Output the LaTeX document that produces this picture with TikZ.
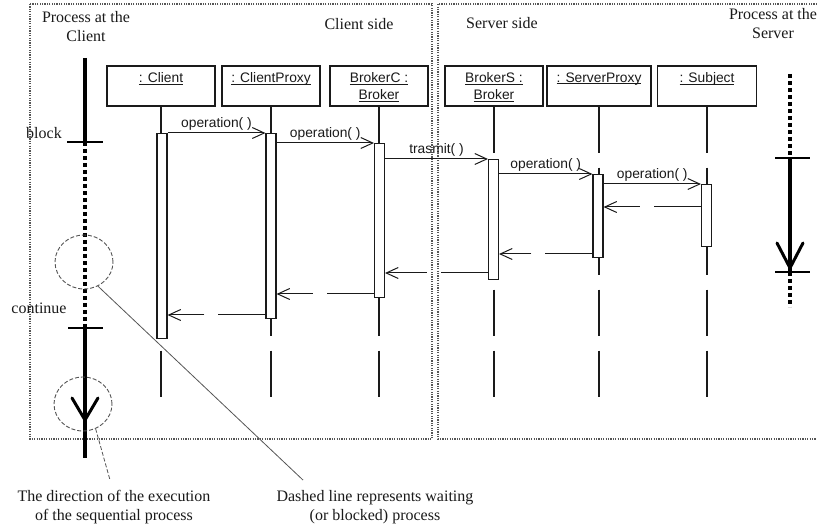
\documentclass[tikz,border=0pt]{standalone}
\usepackage{fontspec}
\setmainfont{Liberation Serif}
\newfontfamily\umlfont{Liberation Sans}
\usetikzlibrary{arrows.meta,shapes.geometric}

\definecolor{ink}{HTML}{1A1A1A}
\definecolor{frame}{HTML}{555555}

% object name, underlined close to the baseline
\newcommand\objname[1]{\underline{\raisebox{0pt}[\height][0pt]{#1}}}

\begin{document}
\begin{tikzpicture}[x=1pt,y=-1pt,
  note/.style={font=\fontsize{16}{19}\selectfont, text=ink, align=center, inner sep=0pt},
  objbox/.style={draw=ink, line width=1.3pt, fill=white, minimum height=40pt, inner sep=0pt},
  objlabel/.style={font=\umlfont\fontsize{13.8}{17}\selectfont, text=ink, align=center, anchor=north, inner sep=0pt, yshift=-7pt},
  lifeline/.style={draw=ink, line width=1.1pt, dash pattern=on 46pt off 15pt},
  actbar/.style={draw=ink, line width=1.1pt, fill=white, minimum width=10pt, inner sep=0pt, anchor=north},
  call/.style={draw=ink, line width=1pt, -{Straight Barb[length=12pt,width=11pt,line width=1pt]}},
  reply/.style={call, dash pattern=on 47pt off 14pt},
  msglabel/.style={font=\umlfont\fontsize{13.8}{16}\selectfont, text=ink, above, inner sep=2pt},
  region/.style={draw=frame, line width=1.1pt, dash pattern=on 1.2pt off 1.2pt},
  flow/.style={line width=4pt, draw=black},
  waitflow/.style={line width=4pt, draw=black, dash pattern=on 4pt off 3pt},
  tick/.style={line width=1.6pt, draw=black},
  vhead/.style={line width=3pt, draw=black, line cap=round},
  halo/.style={draw=frame, line width=0.9pt, dash pattern=on 4pt off 2pt, ellipse, minimum width=58pt, minimum height=54pt, inner sep=0pt},
  leader/.style={draw=frame, line width=0.8pt},
  leaderdash/.style={draw=frame, line width=0.8pt, dash pattern=on 4pt off 2pt},
]
\useasboundingbox (0,0) rectangle (817,529);
\fill[white] (0,0) rectangle (817,529);

% client and server regions
\draw[region] (30,4) rectangle (432,439);
\draw[region] (817,4) -- (438,4) -- (438,439) -- (817,439);

\node[note] (pc) at (86,27) {Process at the\\Client};
\node[note] (cs) at (359,24) {Client side};
\node[note] (ss) at (502,23) {Server side};
\node[note] (ps) at (773,24) {Process at the\\Server};

% participants
\node[objbox, minimum width=108pt] (cl) at (161,86) {};
\node[objlabel] at (cl.north) {\objname{: Client}};
\node[objbox, minimum width=98pt] (cp) at (271,86) {};
\node[objlabel] at (cp.north) {\objname{: ClientProxy}};
\node[objbox, minimum width=98pt] (bc) at (379,86) {};
\node[objlabel] at (bc.north) {\objname{BrokerC :}\\\objname{Broker}};
\node[objbox, minimum width=98pt] (bs) at (494,86) {};
\node[objlabel] at (bs.north) {\objname{BrokerS :}\\\objname{Broker}};
\node[objbox, minimum width=104pt] (sp) at (599,86) {};
\node[objlabel] at (sp.north) {\objname{: ServerProxy}};
\node[objbox, minimum width=99pt] (sb) at (707,86) {};
\node[objlabel] at (sb.north) {\objname{: Subject}};

% lifelines
\coordinate (lend) at (0,398);
\foreach \p in {cl,cp,bc,bs,sp,sb}
  \draw[lifeline] (\p.south) -- (\p.south |- lend);

% activation bars
\node[actbar, minimum height=205pt] (cl-act) at (162,133) {};
\node[actbar, minimum height=185pt] (cp-act) at (271,133) {};
\node[actbar, minimum height=154pt] (bc-act) at (379.5,143) {};
\node[actbar, minimum height=120pt] (bs-act) at (493.5,159) {};
\node[actbar, minimum height=83pt]  (sp-act) at (598,174) {};
\node[actbar, minimum height=62pt]  (sb-act) at (706.5,184) {};

% calls
\draw[call] (cl-act.north east) -- node[msglabel] {operation( )} (cp-act.north west);
\draw[call] (cp-act.east |- bc-act.north) -- node[msglabel] {operation( )} (bc-act.north west);
\draw[call] (bc-act.east |- bs-act.north) -- node[msglabel] {trasmit( )} (bs-act.north west);
\draw[call] (bs-act.east |- sp-act.north) -- node[msglabel] {operation( )} (sp-act.north west);
\draw[call] (sp-act.east |- sb-act.north) -- node[msglabel] {operation( )} (sb-act.north west);

% replies
\coordinate (r1) at (0,207);
\coordinate (r2) at (0,254);
\coordinate (r3) at (0,273);
\coordinate (r4) at (0,294);
\coordinate (r5) at (0,315);
\draw[reply] (sb-act.west |- r1) -- (sp-act.east |- r1);
\draw[reply] (sp-act.west |- r2) -- (bs-act.east |- r2);
\draw[reply] (bs-act.west |- r3) -- (bc-act.east |- r3);
\draw[reply] (bc-act.west |- r4) -- (cp-act.east |- r4);
\draw[reply] (cp-act.west |- r5) -- (cl-act.east |- r5);

% sequential process at the client
\coordinate (lp-top) at (85,58);
\coordinate (lp-block) at (85,142);
\coordinate (lp-cont) at (85,328);
\coordinate (lp-tip) at (85,420);
\coordinate (lp-end) at (85,458);
\draw[flow] (lp-top) -- (lp-block);
\draw[waitflow] (lp-block) -- (lp-cont);
\draw[flow] (lp-cont) -- (lp-end);
\draw[tick] ([xshift=-18pt]lp-block) -- ([xshift=18pt]lp-block);
\draw[tick] ([xshift=-17pt]lp-cont) -- ([xshift=18pt]lp-cont);
\draw[vhead] ([shift={(-13,-22)}]lp-tip) -- (lp-tip) -- ([shift={(13,-22)}]lp-tip);
\node[note, anchor=center] (blk) at (44,133) {block};
\node[note, anchor=center] (cnt) at (39,308) {continue};

% sequential process at the server
\coordinate (rp-top) at (790,74);
\coordinate (rp-start) at (790,158);
\coordinate (rp-tip) at (790,268);
\coordinate (rp-stop) at (790,272);
\coordinate (rp-end) at (790,307);
\draw[waitflow] (rp-top) -- (rp-start);
\draw[flow] (rp-start) -- (rp-stop);
\draw[waitflow] (rp-stop) -- (rp-end);
\draw[tick] ([xshift=-15pt]rp-start) -- ([xshift=20pt]rp-start);
\draw[tick] ([xshift=-15pt]rp-stop) -- ([xshift=20pt]rp-stop);
\draw[vhead] ([shift={(-13,-25)}]rp-tip) -- (rp-tip) -- ([shift={(13,-25)}]rp-tip);

% annotations
\node[halo] (wait) at (84,262) {};
\node[halo] (dir) at (83,404) {};
\node[note] (dnote) at (114,507) {The direction of the execution\\of the sequential process};
\node[note] (wnote) at (375,507) {Dashed line represents waiting\\(or blocked) process};
\draw[leader] (wait.-60) -- ([xshift=-72pt,yshift=10pt]wnote.north);
\draw[leaderdash] (dir.-63) -- ([xshift=-4pt,yshift=10pt]dnote.north);
\end{tikzpicture}
\end{document}
